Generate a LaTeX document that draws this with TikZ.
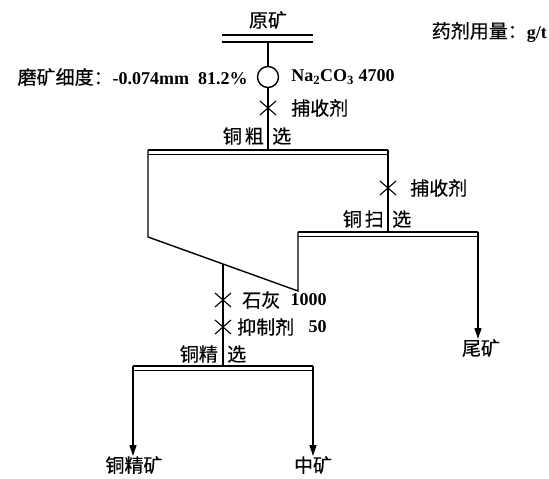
\documentclass[tikz,border=0pt]{standalone}
\usepackage{fontspec}
\setmainfont{Liberation Serif}
\newfontfamily\cjk[FakeBold=0.4]{Noto Sans CJK SC}
\usetikzlibrary{arrows.meta,positioning,calc,shapes.misc}
\tikzset{
  lbl/.style={font=\fontsize{19}{21}\selectfont\cjk,inner sep=0pt},
  num/.style={font=\fontsize{18}{20}\selectfont\bfseries,inner sep=0pt},
  flow/.style={line width=1.4pt,draw=black},
  arr/.style={flow,-{Triangle[length=11pt,width=7pt]}},
  barhi/.style={line width=2.2pt},
  barlo/.style={line width=0.8pt},
  xmark/.style={cross out,draw,line width=1.1pt,minimum width=15pt,minimum height=13pt,inner sep=0pt},
}
\begin{document}
\begin{tikzpicture}[x=1pt,y=-1pt]
  \useasboundingbox (0,0) rectangle (549,479);
  \node[lbl] (feed) at (268,20) {原矿};
  \coordinate (feed-l) at (222,35); \coordinate (feed-r) at (313,35);
  \draw[flow] (feed-l) -- (feed-r);
  \draw[flow] ([yshift=-7pt]feed-l) -- ([yshift=-7pt]feed-r);
  \coordinate (feed-out) at (268,42);
  \node[lbl,anchor=east] (dose) at (547,32) {药剂用量：{\rmfamily\bfseries\fontsize{18}{20}\selectfont g/t}};
  \foreach \n/\a/\b/\y in {ro/148/388/150, sc/298/478/232, cl/133/313/366}{
    \coordinate (\n-l) at (\a,\y); \coordinate (\n-r) at (\b,\y);
    \draw[barhi] (\n-l) -- (\n-r);
    \draw[barlo] ([yshift=-4pt]\n-l) -- ([yshift=-4pt]\n-r);}
  \node[circle,flow,minimum size=21pt,inner sep=0pt] (grind) at (268,77) {};
  \node[lbl,left=9pt of grind] (fine) {磨矿细度：{\rmfamily\bfseries\fontsize{18}{20}\selectfont -0.074mm\ \ 81.2\%}};
  \node[num,right=12pt of grind] (soda) {Na\textsubscript{2}CO\textsubscript{3} 4700};
  \coordinate (ro-in) at (268,150);
  \draw[flow] (feed-out) -- (grind);
  \draw[flow] (grind) -- (ro-in);
  \node[xmark] (col1) at (268,108) {};
  \node[lbl,right=15pt of col1] (col1-t) {捕收剂};
  \node[lbl,anchor=east] (ro-t) at (264,136) {铜\hspace{3pt}粗};
  \node[lbl,anchor=west] (ro-s) at (272,136) {选};
  \coordinate (ro-bend) at (148,237);
  \coordinate (sc-drop) at (298,291);
  \coordinate (join) at ($(ro-bend)!0.5!(sc-drop)$);
  \draw[flow] (ro-l) -- (ro-bend) -- (sc-drop) -- (sc-l);
  \coordinate (sc-in) at (ro-r |- sc-l);
  \draw[flow] (ro-r) -- (sc-in);
  \node[xmark] (col2) at (388,188) {};
  \node[lbl,right=14pt of col2] (col2-t) {捕收剂};
  \node[lbl,anchor=east] (sc-t) at (384,219) {铜\hspace{3pt}扫};
  \node[lbl,anchor=west] (sc-s) at (392,219) {选};
  \node[lbl,anchor=north] (tail) at (481,339) {尾矿};
  \draw[arr] (sc-r) -- (sc-r |- tail.north);
  \coordinate (cl-in) at (join |- cl-l);
  \draw[flow] (join) -- (cl-in);
  \node[xmark] (lime) at (223,300) {};
  \node[lbl,right=11pt of lime] (lime-t) {石灰};
  \node[num,right=10pt of lime-t] (lime-n) {1000};
  \node[xmark] (dep) at (223,327) {};
  \node[lbl,right=6pt of dep] (dep-t) {抑制剂};
  \node[num,right=14pt of dep-t] (dep-n) {50};
  \node[lbl,anchor=east] (cl-t) at (218,354) {铜精};
  \node[lbl,anchor=west] (cl-s) at (227,354) {选};
  \node[lbl,anchor=north] (conc) at (134,456) {铜精矿};
  \node[lbl,anchor=north] (mid) at (313,456) {中矿};
  \draw[arr] (cl-l) -- (cl-l |- conc.north);
  \draw[arr] (cl-r) -- (cl-r |- mid.north);
\end{tikzpicture}
\end{document}
